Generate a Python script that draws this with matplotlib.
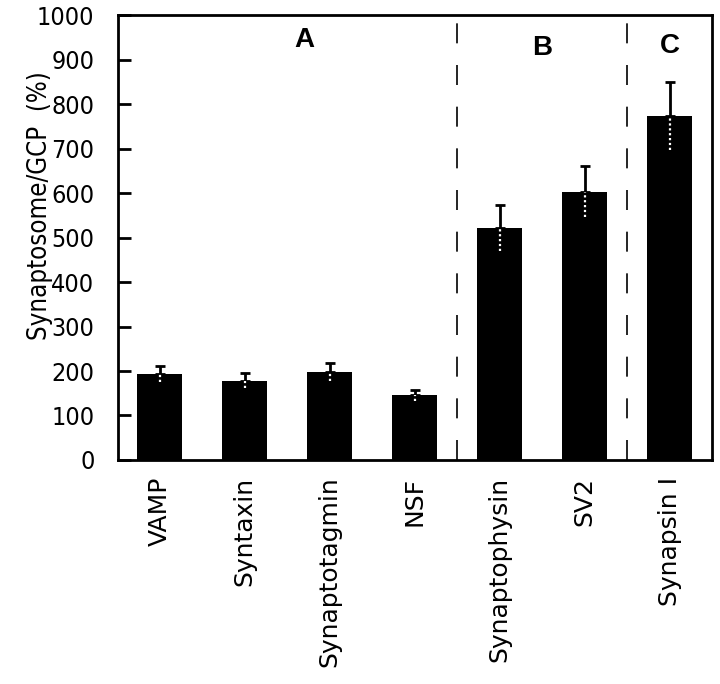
import matplotlib
matplotlib.use("Agg")
import matplotlib.pyplot as plt
import numpy as np

categories = ["VAMP", "Syntaxin", "Synaptotagmin", "NSF", "Synaptophysin", "SV2", "Synapsin I"]
values = [193, 178, 198, 145, 522, 603, 773]
errors = [18, 17, 20, 13, 52, 58, 76]
group_labels = ["A", "B", "C"]
group_label_x = [1.7, 4.5, 6.0]
group_label_y = [945, 925, 930]
separators = [3.5, 5.5]
yticks = [0, 100, 200, 300, 400, 500, 600, 700, 800, 900, 1000]

fig = plt.figure(figsize=(7.2, 6.84), dpi=100)
ax = fig.add_axes([0.164, 0.3275, 0.825, 0.6505])

x = np.arange(len(categories))
ax.bar(x, values, width=0.53, color='black', zorder=2)
ax.errorbar(x, values, yerr=[np.zeros(len(values)), errors], fmt='none',
            ecolor='black', elinewidth=2, capsize=3.8, capthick=2, zorder=3)
lower = np.array(values) - np.array(errors)
ax.vlines(x, lower, values, colors='white', linestyles=(0, (1, 1.2)), linewidth=1.6, zorder=4)

for s in separators:
    ax.axvline(s, color='black', lw=1.2, linestyle=(0, (12, 13)), zorder=1)

for lab, gx, gy in zip(group_labels, group_label_x, group_label_y):
    ax.text(gx, gy, lab, ha='center', va='center', fontsize=20, fontweight='bold',
            family=['Liberation Sans', 'DejaVu Sans'])

ax.set_xlim(-0.49, 6.5)
ax.set_ylim(0, 1000)
ax.set_yticks(yticks)
ax.set_yticklabels([str(t) for t in yticks], family='DejaVu Sans', fontstretch='condensed', fontsize=18)
ax.set_xticks(x)
ax.set_xticklabels(categories, rotation=90, family='DejaVu Sans', fontsize=18, va='top', ha='center')
ax.tick_params(axis='y', direction='in', length=9, width=2, pad=17)
ax.tick_params(axis='x', length=0, pad=12)
for sp in ax.spines.values():
    sp.set_linewidth(2)

fig.text(0.056, 0.70, "Synaptosome/GCP  (%)", rotation=90, ha='center', va='center',
         fontsize=18.5, family='DejaVu Sans', fontstretch='condensed')

fig.savefig("out.png", dpi=100)
